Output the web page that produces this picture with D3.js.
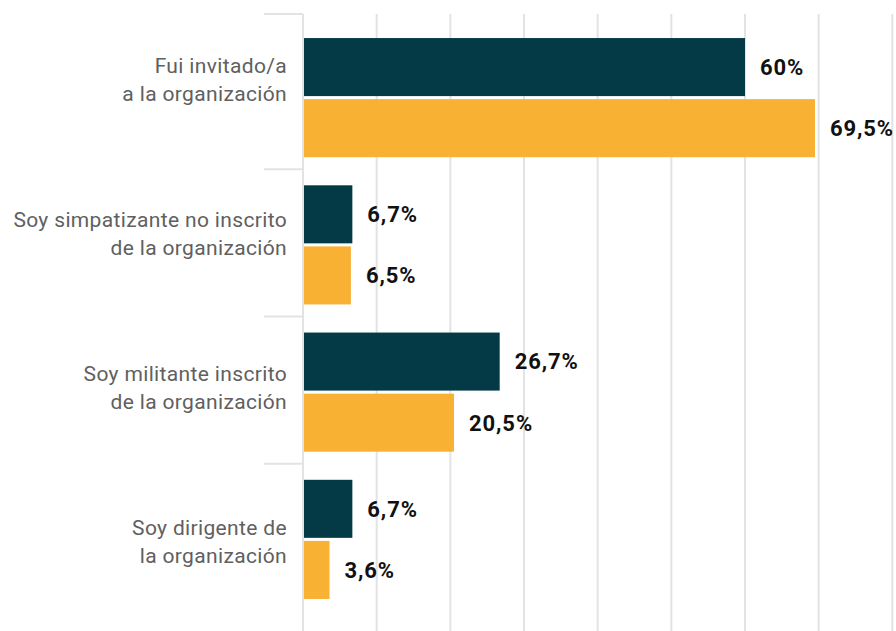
<!DOCTYPE html>
<html>
<head>
<meta charset="utf-8">
<script src="https://cdn.jsdelivr.net/npm/d3@7"></script>
<style>
  body { margin: 0; background: #fff; }
  svg { display: block; font-family: Roboto, "Noto Sans", sans-serif; }
</style>
</head>
<body>
<script>
// categories (label lines) and the two series, in percent
const categories = [
    ["Fui invitado/a", "a la organización"],
    ["Soy simpatizante no inscrito", "de la organización"],
    ["Soy militante inscrito", "de la organización"],
    ["Soy dirigente de", "la organización"]
];
const seriesA = [60, 6.7, 26.7, 6.7];
const seriesB = [69.5, 6.5, 20.5, 3.6];
const seriesNames = ["a", "b"];
const seriesColors = ["#033a45", "#f8b133"];
const xTicks = [0, 10, 20, 30, 40, 50, 60, 70, 80];

const width = 896, height = 631;
const x0 = 303, plotTop = 14;

const svg = d3.select("body").append("svg")
    .attr("width", width)
    .attr("height", height);

const x = d3.scaleLinear().domain([0, 60]).range([x0, 745]);

const y = d3.scaleBand()
    .domain(d3.range(categories.length))
    .range([24, 613])
    .padding(0);

// labels sit on a slightly wider band than the bars
const yLabel = d3.scaleBand()
    .domain(d3.range(categories.length))
    .range([3, 619]);

const yInner = d3.scaleBand()
    .domain(seriesNames)
    .range([0, y.bandwidth()])
    .paddingInner(0.05)
    .paddingOuter(0.23);

// vertical gridlines
svg.append("g")
    .selectAll("line")
    .data(xTicks)
    .join("line")
    .attr("x1", d => x(d))
    .attr("x2", d => x(d))
    .attr("y1", plotTop)
    .attr("y2", height)
    .attr("stroke", "#e3e3e3")
    .attr("stroke-width", 2);

// category separators on the left of the axis
const sepY = [plotTop].concat(d3.range(1, categories.length).map(i => y(i) - 2));
svg.append("g")
    .selectAll("line")
    .data(sepY)
    .join("line")
    .attr("x1", 264)
    .attr("x2", x0)
    .attr("y1", d => d)
    .attr("y2", d => d)
    .attr("stroke", "#e3e3e3")
    .attr("stroke-width", 2);

const rows = categories.map((c, i) => ({
    i,
    lines: c,
    values: [seriesA[i], seriesB[i]]
}));

const group = svg.append("g")
    .selectAll("g")
    .data(rows)
    .join("g")
    .attr("transform", d => `translate(0,${y(d.i)})`);

group.selectAll("rect")
    .data(d => d.values.map((v, j) => ({v, j})))
    .join("rect")
    .attr("x", x(0) + 1)
    .attr("y", d => yInner(seriesNames[d.j]))
    .attr("width", d => x(d.v) - x(0) - 1)
    .attr("height", yInner.bandwidth())
    .attr("fill", d => seriesColors[d.j]);

const fmt = v => String(v).replace(".", ",") + "%";

group.selectAll("text.val")
    .data(d => d.values.map((v, j) => ({v, j})))
    .join("text")
    .attr("class", "val")
    .attr("x", d => x(d.v) + 15)
    .attr("y", d => yInner(seriesNames[d.j]) + yInner.bandwidth() / 2)
    .attr("dy", "0.36em")
    .attr("font-size", 22)
    .attr("font-weight", 700)
    .attr("letter-spacing", 0.9)
    .attr("fill", "#111")
    .text(d => fmt(d.v));

// category labels, two lines, right aligned
svg.append("g")
    .selectAll("text")
    .data(rows)
    .join("text")
    .attr("text-anchor", "end")
    .attr("font-size", 21)
    .attr("letter-spacing", 0.35)
    .attr("fill", "#606060")
    .selectAll("tspan")
    .data(d => d.lines.map((t, k) => ({t, k, i: d.i})))
    .join("tspan")
    .attr("x", 287)
    .attr("y", d => yLabel(d.i) + yLabel.bandwidth() / 2 - 7.5 + d.k * 28)
    .text(d => d.t);
</script>
</body>
</html>
